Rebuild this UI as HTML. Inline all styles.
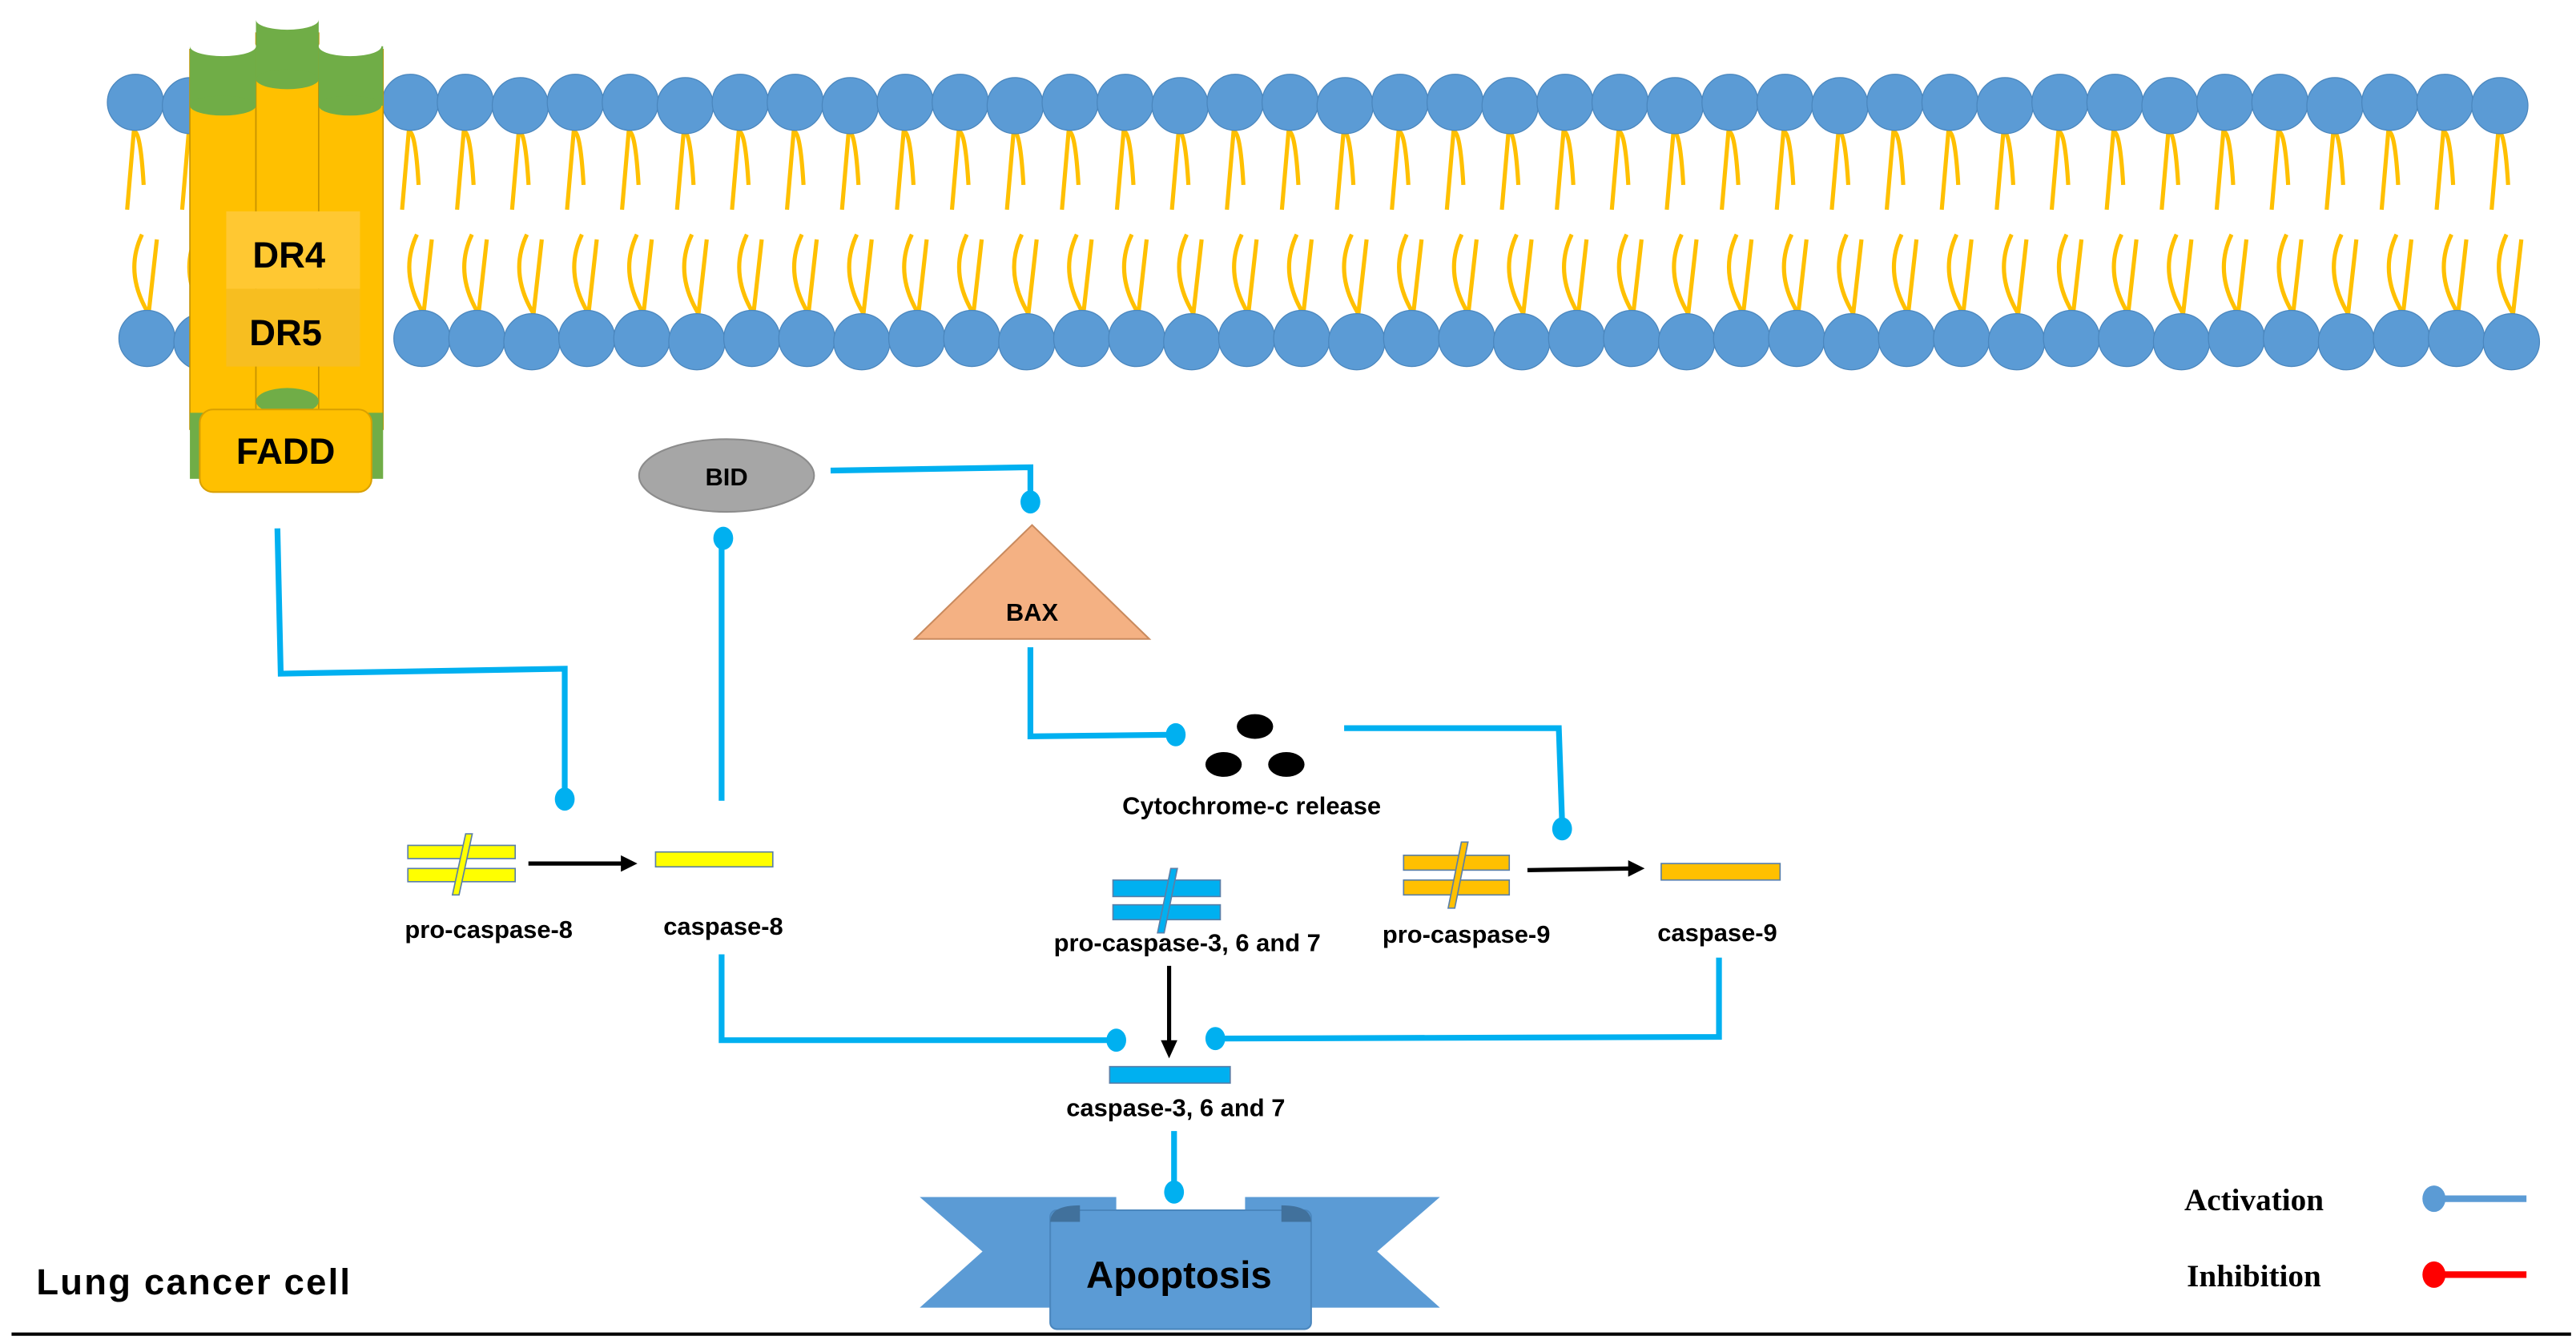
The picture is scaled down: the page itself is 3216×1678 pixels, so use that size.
<!DOCTYPE html>
<html><head><meta charset="utf-8">
<style>
html,body{margin:0;padding:0;background:#fff;}
svg{display:block;}
text{font-family:"Liberation Sans",sans-serif;font-weight:bold;}
</style></head>
<body>
<svg id="s" width="3216" height="1678" viewBox="0 0 1560 814" preserveAspectRatio="none" xmlns="http://www.w3.org/2000/svg">
<g id="mem"></g>
<!-- receptor -->
<g stroke="#C69300" stroke-width="0.8">
<rect x="115" y="30" width="40" height="230" fill="#FFC000"/>
<rect x="155" y="20" width="38" height="240" fill="#FFC000"/>
<rect x="193" y="30" width="39" height="230" fill="#FFC000"/>
</g>
<g fill="#70AD47">
<rect x="115" y="28" width="40" height="36"/><ellipse cx="135" cy="28" rx="20" ry="6" fill="#fff"/><ellipse cx="135" cy="64" rx="20" ry="6"/>
<rect x="155" y="12" width="38" height="36"/><ellipse cx="174" cy="12" rx="19" ry="6" fill="#fff"/><ellipse cx="174" cy="48" rx="19" ry="6"/>
<rect x="193" y="28" width="39" height="36"/><ellipse cx="212" cy="28" rx="19" ry="6" fill="#fff"/><ellipse cx="212" cy="64" rx="19" ry="6"/>
<rect x="115" y="250" width="117" height="40"/>
<ellipse cx="174" cy="243" rx="19" ry="8"/>
</g>
<rect x="137" y="128" width="81" height="47" fill="#FFC832"/>
<rect x="137" y="175" width="81" height="47" fill="#F7BE20"/>
<text x="175" y="162" font-size="22" text-anchor="middle">DR4</text>
<text x="173" y="209" font-size="22" text-anchor="middle">DR5</text>
<rect x="121" y="248" width="104" height="50" rx="8" fill="#FFC000" stroke="#D9A000"/>
<text x="173" y="281" font-size="22" text-anchor="middle">FADD</text>
<!-- BID BAX -->
<ellipse cx="440" cy="288" rx="53" ry="22" fill="#A6A6A6" stroke="#8c8c8c"/>
<text x="440" y="294" font-size="15" text-anchor="middle">BID</text>
<polygon points="554,387 625,318 696,387" fill="#F4B183" stroke="#c98a5e"/>
<text x="625" y="376" font-size="15" text-anchor="middle">BAX</text>
<!-- cyt c -->
<ellipse cx="760" cy="440" rx="11" ry="7.5"/><ellipse cx="741" cy="463" rx="11" ry="7.5"/><ellipse cx="779" cy="463" rx="11" ry="7.5"/>
<!-- connectors -->
<g fill="none" stroke="#00B0F0" stroke-width="3.5">
<polyline points="168,320 170,408 342,405 342,480"/>
<polyline points="437,485 437,330"/>
<polyline points="503,285 624,283 624,300"/>
<polyline points="624,392 624,446 708,445"/>
<polyline points="814,441 944,441 946,498"/>
<polyline points="437,578 437,630 672,630"/>
<polyline points="1041,580 1041,628 740,629"/>
<polyline points="711,685 711,718"/>
</g>
<g fill="#00B0F0">
<ellipse cx="342" cy="484" rx="6" ry="7"/><ellipse cx="438" cy="326" rx="6" ry="7"/><ellipse cx="624" cy="304" rx="6" ry="7"/>
<ellipse cx="712" cy="445" rx="6" ry="7"/><ellipse cx="946" cy="502" rx="6" ry="7"/><ellipse cx="676" cy="630" rx="6" ry="7"/>
<ellipse cx="736" cy="629" rx="6" ry="7"/><ellipse cx="711" cy="722" rx="6" ry="7"/>
</g>
<!-- caspase symbols -->
<g stroke="#5a7fa8" stroke-width="0.8">
<rect x="247" y="512" width="65" height="8" fill="#FFFF00"/><rect x="247" y="526" width="65" height="8" fill="#FFFF00"/>
<polygon points="282,505 286,505 278,542 274,542" fill="#FFFF00"/>
<rect x="397" y="516" width="71" height="9" fill="#FFFF00"/>
<rect x="674" y="533" width="65" height="10" fill="#00B0F0"/><rect x="674" y="548" width="65" height="9" fill="#00B0F0"/>
<polygon points="709,526 713,526 705,565 701,565" fill="#00B0F0"/>
<rect x="672" y="646" width="73" height="10" fill="#00B0F0"/>
<rect x="850" y="518" width="64" height="9" fill="#FFC000"/><rect x="850" y="533" width="64" height="9" fill="#FFC000"/>
<polygon points="885,510 889,510 881,550 877,550" fill="#FFC000"/>
<rect x="1006" y="523" width="72" height="10" fill="#FFC000"/>
</g>
<g stroke="#000" stroke-width="2.5" fill="none">
<line x1="320" y1="523" x2="378" y2="523"/><line x1="925" y1="527" x2="988" y2="526"/><line x1="708" y1="585" x2="708" y2="632"/>
</g>
<polygon points="386,523 376,518 376,528"/><polygon points="996,526 986,521 986,531"/><polygon points="708,641 703,630 713,630"/>
<g font-size="15" text-anchor="middle">
<text x="296" y="568">pro-caspase-8</text>
<text x="438" y="566">caspase-8</text>
<text x="758" y="493">Cytochrome-c release</text>
<text x="719" y="576">pro-caspase-3, 6 and 7</text>
<text x="888" y="571">pro-caspase-9</text>
<text x="1040" y="570">caspase-9</text>
<text x="712" y="676">caspase-3, 6 and 7</text>
</g>
<!-- apoptosis -->
<polygon points="557,725 676,725 676,792 557,792 595,758" fill="#5B9BD5"/>
<polygon points="872,725 754,725 754,792 872,792 834,758" fill="#5B9BD5"/>
<rect x="636" y="733" width="158" height="72" rx="4" fill="#5B9BD5" stroke="#4a86bd"/>
<path d="M636,740 q0,-10 18,-10 l0,10z M794,740 q0,-10 -18,-10 l0,10z" fill="#41719C"/>
<text x="714" y="780" font-size="23" text-anchor="middle">Apoptosis</text>
<text x="22" y="784" font-size="22" textLength="190">Lung cancer cell</text>
<line x1="7" y1="808" x2="1557" y2="808" stroke="#000" stroke-width="2"/>
<text x="1365" y="733" font-size="19" text-anchor="middle" style="font-family:'Liberation Serif',serif">Activation</text>
<text x="1365" y="779" font-size="19" text-anchor="middle" style="font-family:'Liberation Serif',serif">Inhibition</text>
<line x1="1474" y1="726" x2="1530" y2="726" stroke="#5B9BD5" stroke-width="4"/><ellipse cx="1474" cy="726" rx="7" ry="8" fill="#5B9BD5"/>
<line x1="1474" y1="772" x2="1530" y2="772" stroke="#FF0000" stroke-width="4"/><ellipse cx="1474" cy="772" rx="7" ry="8" fill="#FF0000"/>
</svg>
<script>
var g=document.getElementById('mem'),h='';
for(var i=0;i<44;i++){var x=82+i*33.3;if(x>150&&x<235){continue;}
h+='<path d="M'+(x-5)+',127 L'+(x-1)+',80 Q'+(x+3)+',78 '+(x+5)+',112" fill="none" stroke="#FFC000" stroke-width="2.5"/>';
h+='<circle cx="'+x+'" cy="'+(62+(i%3==1?2:0))+'" r="17" fill="#5B9BD5" stroke="#4a86bd" stroke-width="0.6"/>';}
for(var i=0;i<44;i++){var x=89+i*33.3;if(x>150&&x<235){continue;}
h+='<path d="M'+(x-3)+',142 Q'+(x-14)+',165 '+(x+1)+',190 L'+(x+6)+',145" fill="none" stroke="#FFC000" stroke-width="2.5"/>';
h+='<circle cx="'+x+'" cy="'+(205+(i%3==1?2:0))+'" r="17" fill="#5B9BD5" stroke="#4a86bd" stroke-width="0.6"/>';}
g.innerHTML=h;
</script>
</body></html>
